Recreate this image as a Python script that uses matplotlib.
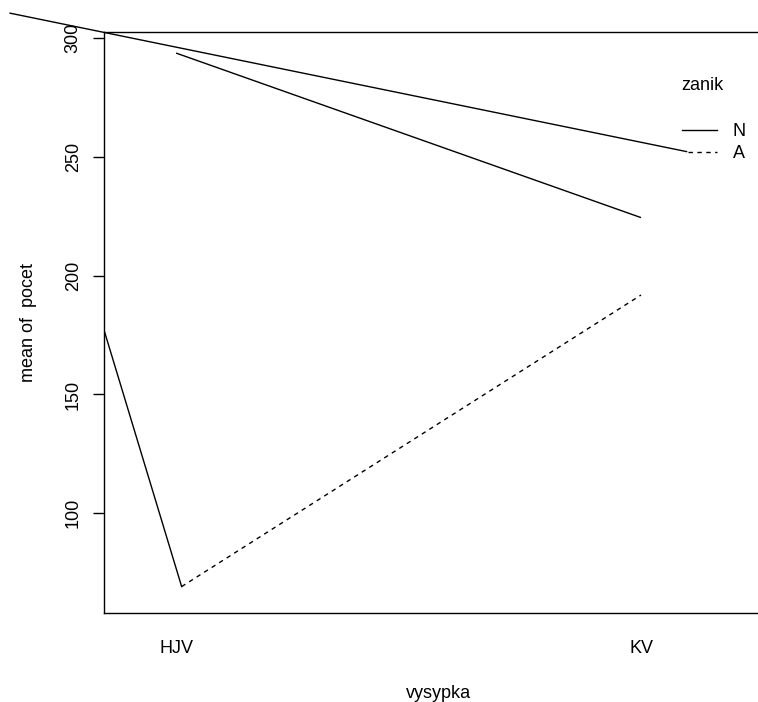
import matplotlib
matplotlib.use("Agg")
import matplotlib.pyplot as plt

plt.rcParams['font.family'] = ['Liberation Sans', 'DejaVu Sans']

# factor levels on the x axis and the trace factor
vysypka = ['HJV', 'KV']
zanik = ['N', 'A']

# mean of pocet for each zanik level, at HJV and KV
mean_N = [293.8, 224.5]
mean_A = [69.1, 191.9]

# stray segments that show up in the original render (data units)
stray_long_x = [0.643, 2.098]
stray_long_y = [310.6, 252.3]
stray_left_x = [0.80, 1.012]
stray_left_y = [206.3, 69.1]

W, H = 758, 702
fig = plt.figure(figsize=(W / 100, H / 100), dpi=100)

left_px, right_px, top_px, bottom_px = 104, 772, 31.7, 612.7
ax = fig.add_axes([left_px / W, 1 - bottom_px / H,
                   (right_px - left_px) / W, (bottom_px - top_px) / H])

xs = [1, 2]
xs_A = [1.012, 2.0]

ax.plot(xs, mean_N, color='black', lw=1.0, solid_capstyle='butt')
ax.plot(xs_A, mean_A, color='black', lw=1.0, dashes=(3.2, 3.2))
ax.plot(stray_long_x, stray_long_y, color='black', lw=1.0, clip_on=False)
ax.plot(stray_left_x, stray_left_y, color='black', lw=1.0)

ax.set_xlim(0.845, 1 + (right_px - 176) / 465)
ax.set_ylim(58.1, 302.8)

ax.set_xticks(xs)
ax.set_xticklabels(vysypka)
ax.tick_params(axis='x', length=0, pad=20, labelsize=13)
ax.set_yticks([100, 150, 200, 250, 300])
ax.tick_params(axis='y', length=8, width=1, pad=8, labelsize=13)
for lab in ax.get_yticklabels():
    lab.set_rotation(90)
    lab.set_va('center')

for s in ax.spines.values():
    s.set_linewidth(1.0)

ax.set_xlabel('vysypka', fontsize=13, labelpad=20)
ax.set_ylabel('mean of  pocet', fontsize=13, labelpad=20)

# legend drawn by hand, like R's interaction.plot
ax.text(702 / W, 1 - 85 / H, 'zanik', transform=fig.transFigure,
        ha='center', va='center', fontsize=13)
ax.plot([682 / W, 717 / W], [1 - 130 / H] * 2, color='black', lw=1.0,
        transform=fig.transFigure, clip_on=False)
ax.plot([688 / W, 717 / W], [1 - 151.5 / H] * 2, color='black', lw=1.0,
        dashes=(3.2, 3.2), transform=fig.transFigure, clip_on=False)
for lab, ypx in zip(zanik, [131, 153]):
    ax.text(733 / W, 1 - ypx / H, lab, transform=fig.transFigure,
            ha='left', va='center', fontsize=13)

fig.savefig('out.png', dpi=100)
